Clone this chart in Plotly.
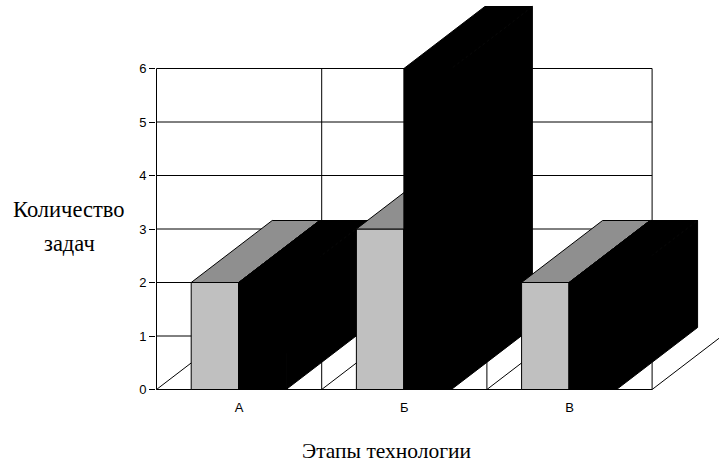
import plotly.graph_objects as go

categories = ["А", "Б", "В"]
series_front = [2, 3, 2]
series_back = [2, 6, 2]
y_ticks = [0, 1, 2, 3, 4, 5, 6]

W, H = 719, 463
LEFT, BOTTOM = 156, 390
X0_PX, Y0_PX = 156.5, 389.5
CAT_PX, UNIT_PX = 165.2, 53.5
GAP = 0.21
BAR = 0.2875
DX = 81 / CAT_PX
DY = 62 / UNIT_PX

LIGHT, MID, DARK = "#C0C0C0", "#8F8F8F", "#000000"

fig = go.Figure()


def line(xs, ys, width=1):
    fig.add_trace(go.Scatter(x=xs, y=ys, mode="lines", line=dict(color="black", width=width),
                             hoverinfo="skip", showlegend=False))


def poly(xs, ys, color):
    fig.add_trace(go.Scatter(x=xs + xs[:1], y=ys + ys[:1], mode="lines", fill="toself", fillcolor=color,
                             line=dict(color="black", width=1), hoverinfo="skip", showlegend=False))


n = len(categories)
for t in y_ticks:
    line([0, n], [t, t])
line([0, 0], [0, y_ticks[-1]])
for i in range(1, n + 1):
    line([i, i], [0, y_ticks[-1]])
for i in range(n + 1):
    line([i, i + DX], [0, DY])


def bar(x0, v, front):
    x1 = x0 + BAR
    poly([x0, x1, x1, x0], [0, 0, v, v], front)
    poly([x0, x1, x1 + DX, x0 + DX], [v, v, v + DY, v + DY], MID if front == LIGHT else DARK)
    poly([x1, x1 + DX, x1 + DX, x1], [0, DY, v + DY, v], DARK)


for i in range(n):
    bar(i + GAP, series_front[i], LIGHT)
    bar(i + GAP + BAR, series_back[i], DARK)


def label(text, cx, cy, size):
    return dict(text=text, xref="paper", yref="paper", x=0, y=0, showarrow=False,
                xanchor="center", yanchor="middle",
                xshift=cx - LEFT, yshift=BOTTOM - cy, font=dict(family="Liberation Serif", size=size))


fig.update_layout(
    width=W, height=H, autosize=False, showlegend=False,
    paper_bgcolor="white", plot_bgcolor="white",
    margin=dict(l=LEFT, r=0, t=0, b=H - BOTTOM, pad=0),
    font=dict(family="Liberation Sans", size=13, color="black"),
    xaxis=dict(range=[-(X0_PX - LEFT) / CAT_PX, (W - X0_PX) / CAT_PX], tickmode="array",
               tickvals=[i + 0.5 for i in range(n)], ticktext=categories,
               showgrid=False, zeroline=False, showline=False,
               ticks="outside", ticklen=5, tickcolor="rgba(0,0,0,0)", tickfont=dict(size=13)),
    yaxis=dict(range=[-(BOTTOM - Y0_PX) / UNIT_PX, Y0_PX / UNIT_PX], tickmode="array", tickvals=y_ticks,
               ticktext=[str(t) for t in y_ticks], showgrid=False, zeroline=False, showline=False,
               ticks="outside", ticklen=6, tickwidth=1, tickcolor="black", tickfont=dict(size=13)),
    annotations=[
        label("Количество", 69, 209, 22.5),
        label("задач", 69, 243, 22.5),
        label("Этапы технологии", 386, 451, 21.5),
    ],
)
fig.write_html("out.html", config={"displayModeBar": False},
               post_script="document.body.style.margin='0';")
